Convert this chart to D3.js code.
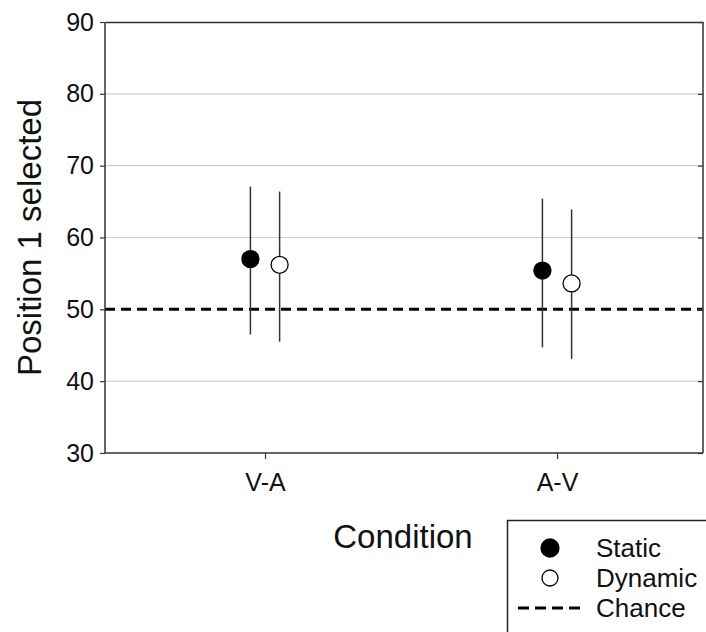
<!DOCTYPE html>
<html>
<head>
<meta charset="utf-8">
<script src="https://cdn.jsdelivr.net/npm/d3@7"></script>
<style>
	body { margin: 0; background: #fff; }
	svg { font-family: "Liberation Sans", Arial, sans-serif; }
</style>
</head>
<body>
<svg id="chart" width="706" height="632"></svg>
<script>
// values
var conditions = ["V-A", "A-V"];
var staticMean = [57.0, 55.4];
var staticLow = [46.5, 44.7];
var staticHigh = [67.1, 65.4];
var dynamicMean = [56.2, 53.6];
var dynamicLow = [45.5, 43.1];
var dynamicHigh = [66.4, 63.9];
var yTicks = [30, 40, 50, 60, 70, 80, 90];
var gridValues = [40, 60, 70, 80];
var chanceLevel = 50;

var svg = d3.select("#chart"),
	margin = { top: 22, left: 105, right: 3, bottom: 179 },
	width = +svg.attr("width"),
	height = +svg.attr("height");

var x = d3.scaleLinear()
	.domain([0.452, 2.5])
	.range([margin.left, width - margin.right]);
var y = d3.scaleLinear()
	.domain([30, 90])
	.range([height - margin.bottom, margin.top]);

var series = [
	{ name: "Static", mean: staticMean, low: staticLow, high: staticHigh, fill: "#000", offset: -0.05 },
	{ name: "Dynamic", mean: dynamicMean, low: dynamicLow, high: dynamicHigh, fill: "#fff", offset: 0.05 }
];

// grid
svg.append("g").selectAll("line").data(gridValues)
	.enter().append("line")
	.attr("x1", margin.left).attr("x2", width - margin.right)
	.attr("y1", function(d) { return y(d); })
	.attr("y2", function(d) { return y(d); })
	.attr("stroke", "#cfcfcf").attr("stroke-width", 1.2);

// chance line
svg.append("line")
	.attr("x1", margin.left).attr("x2", width - margin.right)
	.attr("y1", y(chanceLevel)).attr("y2", y(chanceLevel))
	.attr("stroke", "#000").attr("stroke-width", 3)
	.attr("stroke-dasharray", "10,6");

// axes
var yAxis = svg.append("g")
	.attr("transform", "translate(" + margin.left + ",0)")
	.call(d3.axisLeft(y).tickValues(yTicks).tickSize(5).tickPadding(6));
var yAxisRight = svg.append("g")
	.attr("transform", "translate(" + (width - margin.right) + ",0)")
	.call(d3.axisLeft(y).tickValues(yTicks).tickSize(5).tickFormat(""));
var xAxis = svg.append("g")
	.attr("transform", "translate(0," + (height - margin.bottom) + ")")
	.call(d3.axisBottom(x).tickValues([1, 2]).tickSize(6).tickPadding(14)
		.tickFormat(function(d) { return conditions[d - 1]; }));
var xAxisTop = svg.append("g")
	.attr("transform", "translate(0," + margin.top + ")")
	.call(d3.axisTop(x).tickValues([]).tickSizeOuter(0));

[yAxis, yAxisRight, xAxis, xAxisTop].forEach(function(g) {
	g.select(".domain").attr("stroke", "#333").attr("stroke-width", 1.5);
	g.selectAll(".tick line").attr("stroke", "#333").attr("stroke-width", 1.2);
	g.selectAll("text").attr("fill", "#111").style("font-size", "25px")
		.style("font-family", "'Liberation Sans', Arial, sans-serif");
});
xAxis.select(".domain").attr("d", "M" + margin.left + ",0H" + (width - margin.right));
yAxis.select(".domain").attr("d", "M0," + margin.top + "V" + (height - margin.bottom));
yAxisRight.select(".domain").attr("d", "M0," + margin.top + "V" + (height - margin.bottom));

// error bars and points
series.forEach(function(s) {
	var g = svg.append("g");
	g.selectAll("line").data(conditions)
		.enter().append("line")
		.attr("x1", function(d, i) { return x(i + 1 + s.offset); })
		.attr("x2", function(d, i) { return x(i + 1 + s.offset); })
		.attr("y1", function(d, i) { return y(s.low[i]); })
		.attr("y2", function(d, i) { return y(s.high[i]); })
		.attr("stroke", "#333").attr("stroke-width", 1.5);
	g.selectAll("circle").data(conditions)
		.enter().append("circle")
		.attr("cx", function(d, i) { return x(i + 1 + s.offset); })
		.attr("cy", function(d, i) { return y(s.mean[i]); })
		.attr("r", 8.5)
		.attr("fill", s.fill).attr("stroke", "#000").attr("stroke-width", 1.3);
});

// axis titles
svg.append("text")
	.attr("transform", "translate(41," + ((margin.top + height - margin.bottom) / 2) + ") rotate(-90)")
	.attr("text-anchor", "middle")
	.style("font-size", "33px").attr("fill", "#111")
	.text("Position 1 selected");
svg.append("text")
	.attr("x", 403).attr("y", 548)
	.attr("text-anchor", "middle")
	.style("font-size", "33px").attr("fill", "#111")
	.text("Condition");

// legend
var legend = svg.append("g");
legend.append("rect")
	.attr("x", 507.5).attr("y", 520.5).attr("width", 220).attr("height", 140)
	.attr("fill", "#fff").attr("stroke", "#222").attr("stroke-width", 1.5);
var legendItems = [
	{ name: "Static", fill: "#000", r: 9 },
	{ name: "Dynamic", fill: "#fff", r: 8 },
	{ name: "Chance" }
];
legendItems.forEach(function(d, i) {
	var cy = 548 + i * 30;
	if (d.fill) {
		legend.append("circle")
			.attr("cx", 550).attr("cy", cy).attr("r", d.r)
			.attr("fill", d.fill).attr("stroke", "#000").attr("stroke-width", 1.3);
	} else {
		legend.append("line")
			.attr("x1", 518).attr("x2", 581).attr("y1", cy).attr("y2", cy)
			.attr("stroke", "#000").attr("stroke-width", 3)
			.attr("stroke-dasharray", "11,6");
	}
	legend.append("text")
		.attr("x", 596).attr("y", cy + 9)
		.style("font-size", "26px").attr("fill", "#111")
		.text(d.name);
});
</script>
</body>
</html>
